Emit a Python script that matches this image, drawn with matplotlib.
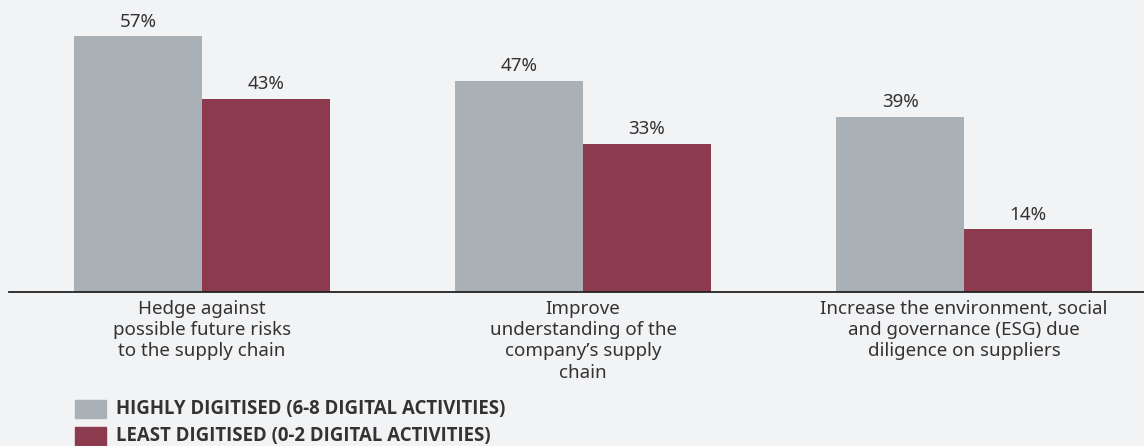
import numpy as np
import matplotlib.pyplot as plt
from matplotlib.patches import Rectangle

plt.rcParams['font.family'] = ['Noto Sans', 'DejaVu Sans']

categories = [
    "Hedge against\npossible future risks\nto the supply chain",
    "Improve\nunderstanding of the\ncompany\u2019s supply\nchain",
    "Increase the environment, social\nand governance (ESG) due\ndiligence on suppliers",
]
highly = [57, 47, 39]
least = [43, 33, 14]
series_names = [
    "HIGHLY DIGITISED (6-8 DIGITAL ACTIVITIES)",
    "LEAST DIGITISED (0-2 DIGITAL ACTIVITIES)",
]

BG = "#f2f3f5"
GREY = "#a9b0b6"
MAROON = "#8c3b4f"
TXT = "#333333"

fig = plt.figure(figsize=(11.44, 4.46), dpi=100)
fig.patch.set_facecolor(BG)
ax = fig.add_axes([9 / 1144, (446 - 292) / 446, 1135 / 1144, 292 / 446])
ax.set_facecolor(BG)

x = np.arange(len(categories))
w = 0.335
b1 = ax.bar(x - w / 2, highly, w, color=GREY)
b2 = ax.bar(x + w / 2, least, w, color=MAROON)

for bars, vals in ((b1, highly), (b2, least)):
    for r, v in zip(bars, vals):
        ax.text(r.get_x() + r.get_width() / 2, v + 1.2, f"{v}%",
                ha="center", va="bottom", fontsize=13.5, color=TXT)

ax.set_xlim(-0.5066, 2.472)
ax.set_ylim(0, 65.0)
for s in ("top", "right", "left"):
    ax.spines[s].set_visible(False)
ax.spines["bottom"].set_color("#222222")
ax.spines["bottom"].set_linewidth(1.3)
ax.set_yticks([])
ax.set_xticks(x)
ax.set_xticklabels(categories, fontsize=13.5, color=TXT, linespacing=1.22, va="top")
ax.tick_params(axis="x", length=0, pad=6)

# legend drawn by hand: small swatches with bold labels
for i, (name, col) in enumerate(zip(series_names, [GREY, MAROON])):
    y0 = 446 - 418 - i * 27
    fig.patches.append(Rectangle((75 / 1144, y0 / 446), 31 / 1144, 18 / 446,
                                 transform=fig.transFigure, color=col))
    fig.text(116 / 1144, (y0 + 9) / 446, name, fontsize=13.4, fontweight="bold",
             family=["Open Sans", "DejaVu Sans"],
             color=TXT, va="center", ha="left")

fig.savefig("out.png", dpi=100, facecolor=BG)
